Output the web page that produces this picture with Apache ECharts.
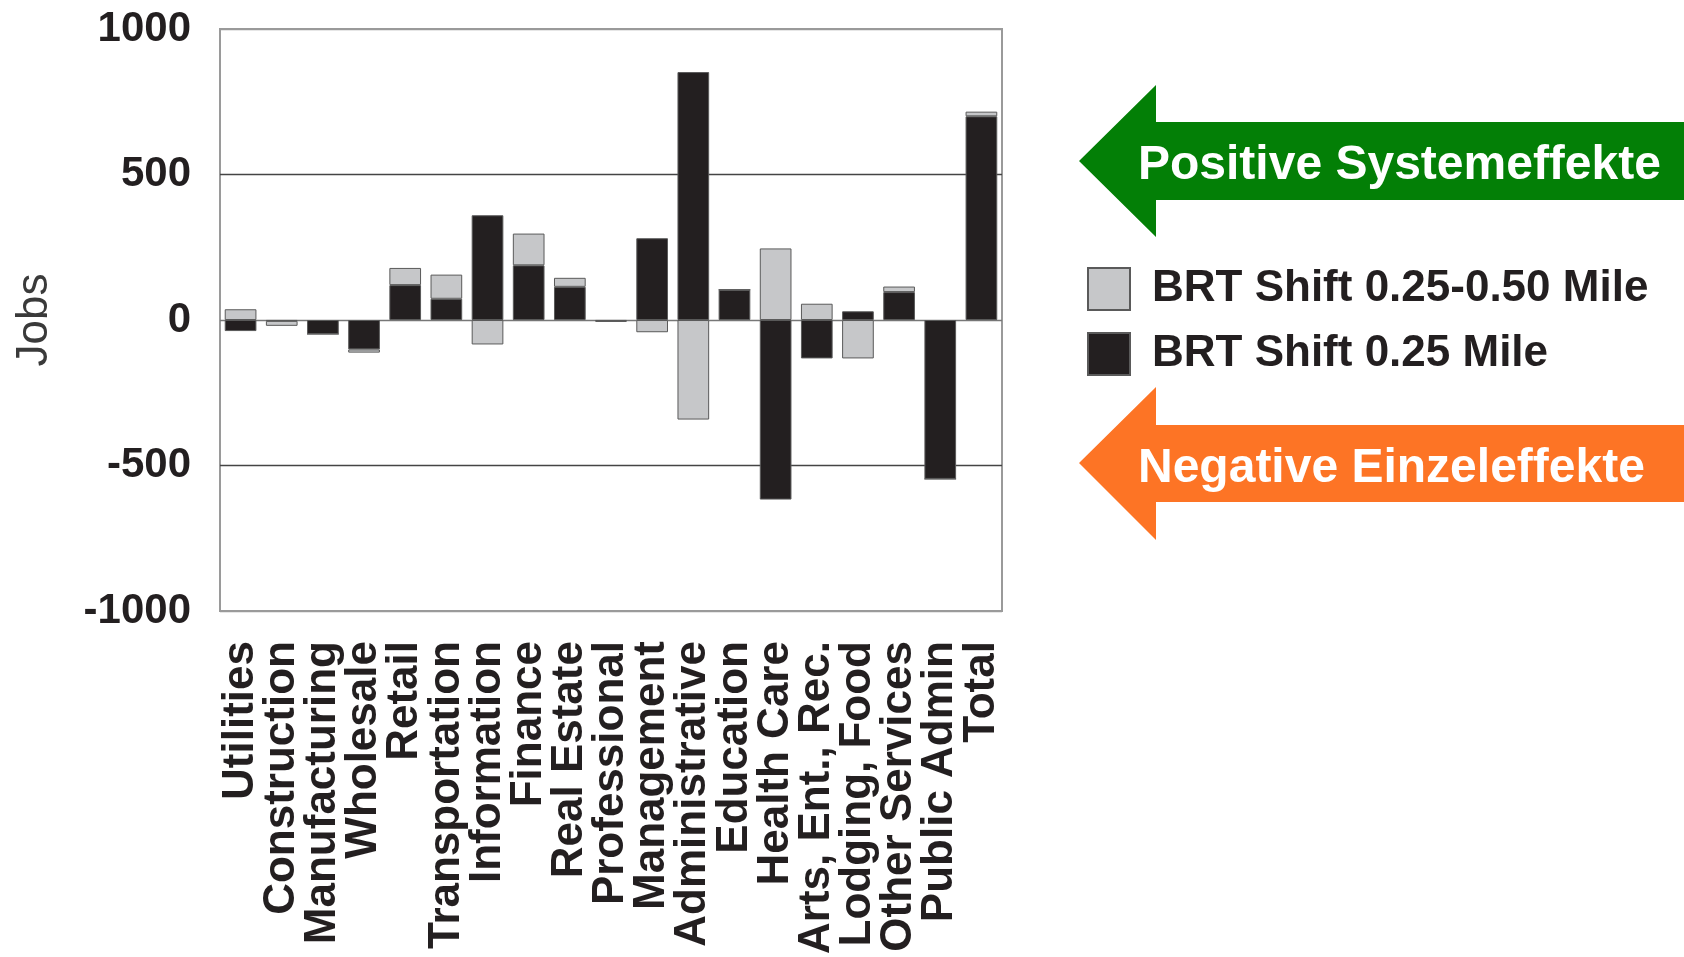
<!DOCTYPE html>
<html>
<head>
<meta charset="utf-8">
<script src="https://cdn.jsdelivr.net/npm/echarts@6/dist/echarts.min.js"></script>
<style>
html,body{margin:0;padding:0;background:#fff;}
#chart{width:1684px;height:957px;}
</style>
</head>
<body>
<div id="chart"></div>
<script>
const categories = ["Utilities","Construction","Manufacturing","Wholesale","Retail","Transportation","Information","Finance","Real Estate","Professional","Management","Administrative","Education","Health Care","Arts, Ent., Rec.","Lodging, Food","Other Services","Public Admin","Total"];
const shift025 = [-38,-3,-48,-101,120,73,360,188,114,-3,281,852,104,-617,-132,30,96,-546,700];
const shift025to050 = [37,-17,0,-11,59,83,-84,109,31,-3,-42,-342,0,246,56,-132,19,0,16];
const yTicks = {min:-1000, max:1000, interval:500};
const seriesNames = ["BRT Shift 0.25 Mile","BRT Shift 0.25-0.50 Mile"];
const noteTexts = ["Positive Systemeffekte","Negative Einzeleffekte"];

const chart = echarts.init(document.getElementById('chart'), null, {renderer:'canvas'});
const font = '"Liberation Sans", Arial, Helvetica, sans-serif';
const barBorder = {borderColor:'#5a5a5a', borderWidth:1};

chart.setOption({
  animation:false,
  textStyle:{fontFamily:font},
  grid:{left:220, right:682, top:29, bottom:345, show:true, borderColor:'#9a9a9a', borderWidth:2, backgroundColor:'transparent'},
  xAxis:{
    type:'category', data:categories,
    axisLine:{show:false}, axisTick:{show:false},
    axisLabel:{interval:0, rotate:90, margin:30, fontSize:44, fontWeight:'bold', color:'#231f20', fontFamily:font}
  },
  yAxis:{
    type:'value', min:yTicks.min, max:yTicks.max, interval:yTicks.interval,
    name:'Jobs', nameLocation:'middle', nameGap:163,
    nameTextStyle:{fontSize:44, color:'#3a3a3a', fontFamily:font},
    axisLine:{show:false}, axisTick:{show:false},
    axisLabel:{margin:29, fontSize:42, fontWeight:'bold', color:'#231f20', fontFamily:font,
      formatter:function(v){return String(v);}},
    splitLine:{show:true, lineStyle:{color:['#9a9a9a','#444','#777','#444','#9a9a9a'], width:1.3}}
  },
  legend:{
    orient:'vertical', left:1087, top:267, padding:0,
    itemWidth:42, itemHeight:42, itemGap:21, icon:'rect',
    data:[seriesNames[1], seriesNames[0]],
    textStyle:{fontSize:44, fontWeight:'bold', color:'#231f20', fontFamily:font, padding:[6,0,0,17]}
  },
  series:[
    {name:seriesNames[0], type:'bar', stack:'s', data:shift025, barWidth:'77%',
     itemStyle:Object.assign({color:'#231f20'}, barBorder)},
    {name:seriesNames[1], type:'bar', stack:'s', data:shift025to050, barWidth:'77%',
     itemStyle:Object.assign({color:'#c6c7c9'}, barBorder)}
  ],
  graphic:[
    {type:'polygon', shape:{points:[[1079,161],[1156,85],[1156,122],[1684,122],[1684,200],[1156,200],[1156,237]]}, style:{fill:'#037f06'}},
    {type:'text', left:1138, top:142, style:{text:noteTexts[0], fill:'#fff', font:'bold 48px '+font}},
    {type:'polygon', shape:{points:[[1079,463],[1156,387],[1156,425],[1684,425],[1684,502],[1156,502],[1156,540]]}, style:{fill:'#fd7425'}},
    {type:'text', left:1138, top:445, style:{text:noteTexts[1], fill:'#fff', font:'bold 48px '+font}}
  ]
});
</script>
</body>
</html>
